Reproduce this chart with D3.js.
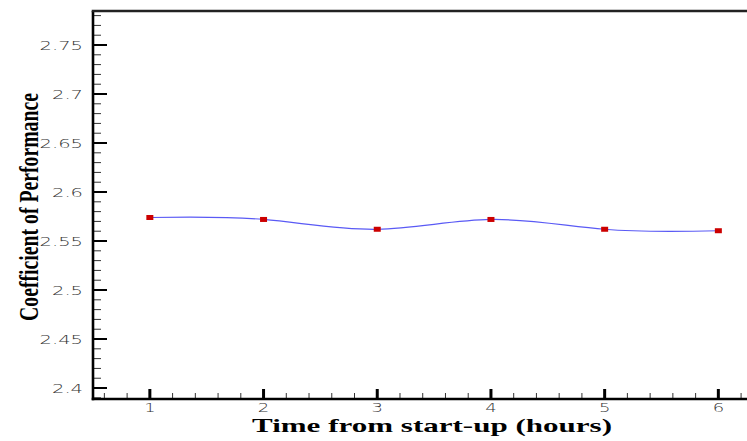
<!DOCTYPE html>
<html>
<head>
<meta charset="utf-8">
<script src="https://d3js.org/d3.v7.min.js"></script>
<style>
    body { margin: 0; background: #ffffff; }
    .chart { width: 747px; height: 441px; overflow: hidden; }
</style>
</head>
<body>
<div class="chart"></div>
<script>
const hours = [1, 2, 3, 4, 5, 6];
const cop = [2.574, 2.572, 2.562, 2.572, 2.562, 2.5605];

const xTicks = [1, 2, 3, 4, 5, 6];
const yTicks = [2.4, 2.45, 2.5, 2.55, 2.6, 2.65, 2.7, 2.75];

const xTitle = "Time from start-up (hours)";
const yTitle = "Coefficient of Performance";

function display() {
    const width = 747, height = 441;
    const left = 93, top = 11, bottom = 399;

    const svg = d3.select(".chart")
        .append("svg")
        .attr("width", width)
        .attr("height", height);

    const x = d3.scaleLinear().domain([0.5, 6.5]).range([left, left + 6 * 113.7]);
    const y = d3.scaleLinear().domain([2.3888, 2.7847]).range([bottom, top]);

    // minor ticks first, majors drawn on top
    const yMinor = y.ticks(40).filter(v => !yTicks.some(t => Math.abs(t - v) < 1e-6));
    const xMinor = x.ticks(30).filter(v => !xTicks.some(t => Math.abs(t - v) < 1e-6));

    svg.append("g").selectAll("line")
        .data(yMinor)
        .enter()
        .append("line")
        .attr("x1", left)
        .attr("x2", left + 8)
        .attr("y1", d => y(d))
        .attr("y2", d => y(d))
        .attr("stroke", "#333")
        .attr("stroke-width", 1);

    svg.append("g").selectAll("line")
        .data(yTicks)
        .enter()
        .append("line")
        .attr("x1", left)
        .attr("x2", left + 14)
        .attr("y1", d => y(d))
        .attr("y2", d => y(d))
        .attr("stroke", "#000")
        .attr("stroke-width", 2);

    svg.append("g").selectAll("line")
        .data(xMinor)
        .enter()
        .append("line")
        .attr("x1", d => x(d))
        .attr("x2", d => x(d))
        .attr("y1", bottom)
        .attr("y2", bottom - 6)
        .attr("stroke", "#333")
        .attr("stroke-width", 1);

    svg.append("g").selectAll("line")
        .data(xTicks)
        .enter()
        .append("line")
        .attr("x1", d => x(d))
        .attr("x2", d => x(d))
        .attr("y1", bottom)
        .attr("y2", bottom - 10)
        .attr("stroke", "#000")
        .attr("stroke-width", 3);

    // frame: left, bottom, top (right side runs off the picture)
    svg.append("line")
        .attr("x1", left).attr("x2", left)
        .attr("y1", top).attr("y2", bottom + 1.2)
        .attr("stroke", "#000").attr("stroke-width", 2.6);
    svg.append("line")
        .attr("x1", left - 1.3).attr("x2", width)
        .attr("y1", bottom).attr("y2", bottom)
        .attr("stroke", "#000").attr("stroke-width", 2.4);
    svg.append("line")
        .attr("x1", left - 1.3).attr("x2", width)
        .attr("y1", top).attr("y2", top)
        .attr("stroke", "#222").attr("stroke-width", 2.4);

    // tick labels, stretched wide like the original
    svg.append("g").selectAll("text")
        .data(yTicks)
        .enter()
        .append("text")
        .attr("transform", d => `translate(83, ${y(d) + 5}) scale(1.5, 1)`)
        .attr("text-anchor", "end")
        .style("font-family", "'DejaVu Sans', sans-serif")
        .style("font-weight", "200")
        .style("font-size", "13px")
        .style("fill", "#333")
        .text(d => d);

    svg.append("g").selectAll("text")
        .data(xTicks)
        .enter()
        .append("text")
        .attr("transform", d => `translate(${x(d)}, 412) scale(1.5, 1)`)
        .attr("text-anchor", "middle")
        .style("font-family", "'DejaVu Sans', sans-serif")
        .style("font-weight", "200")
        .style("font-size", "12px")
        .style("fill", "#333")
        .text(d => d);

    // curve + markers
    const points = hours.map((h, i) => [h, cop[i]]);
    const line = d3.line()
        .x(d => x(d[0]))
        .y(d => y(d[1]))
        .curve(d3.curveNatural);

    svg.append("path")
        .datum(points)
        .attr("d", line)
        .attr("fill", "none")
        .attr("stroke", "#5a5af5")
        .attr("stroke-width", 1.2);

    svg.append("g").selectAll("rect")
        .data(points)
        .enter()
        .append("rect")
        .attr("x", d => x(d[0]) - 3.5)
        .attr("y", d => y(d[1]) - 2.5)
        .attr("width", 7)
        .attr("height", 5)
        .attr("fill", "#cc0000");

    // axis titles
    svg.append("text")
        .attr("x", 252)
        .attr("y", 432)
        .attr("textLength", 360)
        .attr("lengthAdjust", "spacingAndGlyphs")
        .style("font-family", "'Liberation Serif', serif")
        .style("font-weight", "bold")
        .style("font-size", "19px")
        .style("fill", "#000")
        .text(xTitle);

    svg.append("text")
        .attr("transform", "translate(38, 207) rotate(-90)")
        .attr("text-anchor", "middle")
        .attr("textLength", 228)
        .attr("lengthAdjust", "spacingAndGlyphs")
        .style("font-family", "'Liberation Serif', serif")
        .style("font-weight", "bold")
        .style("font-size", "27px")
        .style("fill", "#000")
        .text(yTitle);
}

window.onload = function() {
    display();
};
</script>
</body>
</html>
